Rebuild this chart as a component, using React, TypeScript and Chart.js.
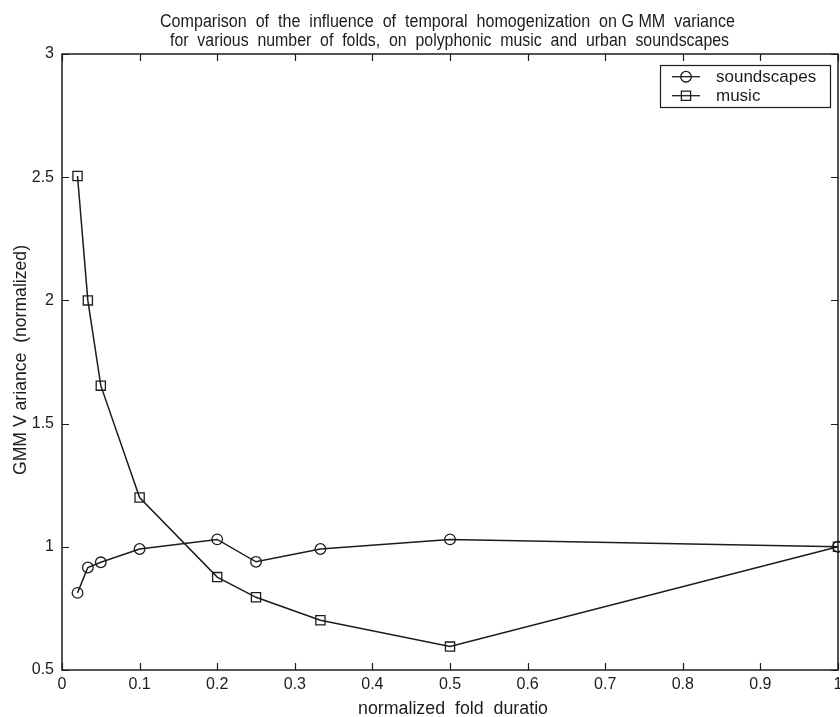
import React, { useEffect, useRef } from "react";
import { Chart, registerables } from "chart.js";

Chart.register(...registerables);

// ---- data ----
const foldDurations = [0.02, 0.0333, 0.05, 0.1, 0.2, 0.25, 0.333, 0.5, 1];
const soundscapesVariance = [0.813, 0.916, 0.937, 0.991, 1.03, 0.939, 0.991, 1.03, 1.0];
const musicVariance = [2.505, 2.0, 1.654, 1.2, 0.877, 0.795, 0.702, 0.595, 1.0];
const xTicks = [0, 0.1, 0.2, 0.3, 0.4, 0.5, 0.6, 0.7, 0.8, 0.9, 1];
const yTicks = [0.5, 1, 1.5, 2, 2.5, 3];
const titleLines = [
  "Comparison  of  the  influence  of  temporal  homogenization  on G MM  variance",
  "for  various  number  of  folds,  on  polyphonic  music  and  urban  soundscapes",
];
const xLabel = "normalized  fold  duratio";
const yLabel = "GMM V ariance  (normalized)";
const seriesNames = ["soundscapes", "music"];

const INK = "#1c1c1c";
const FONT = "'Liberation Sans', Arial, Helvetica, sans-serif";

function drawFitted(
  ctx: CanvasRenderingContext2D,
  text: string,
  cx: number,
  baseline: number,
  targetWidth: number,
  size: number
) {
  ctx.save();
  ctx.font = `${size}px ${FONT}`;
  ctx.textAlign = "center";
  ctx.textBaseline = "alphabetic";
  const w = ctx.measureText(text).width;
  ctx.translate(cx, baseline);
  ctx.scale(targetWidth / w, 1);
  ctx.fillStyle = INK;
  ctx.fillText(text, 0, 0);
  ctx.restore();
}

const framePlugin = {
  id: "matlabFrame",
  beforeDatasetsDraw(chart: any) {
    const { ctx, chartArea, scales } = chart;
    const { left, right, top, bottom } = chartArea;
    ctx.save();
    ctx.strokeStyle = INK;
    ctx.lineWidth = 1.5;
    ctx.strokeRect(left, top, right - left, bottom - top);
    ctx.lineWidth = 1.2;
    ctx.beginPath();
    scales.x.ticks.forEach((t: any) => {
      const px = Math.round(scales.x.getPixelForValue(t.value)) + 0.5;
      ctx.moveTo(px, bottom);
      ctx.lineTo(px, bottom - 7);
      ctx.moveTo(px, top);
      ctx.lineTo(px, top + 7);
    });
    scales.y.ticks.forEach((t: any) => {
      const py = Math.round(scales.y.getPixelForValue(t.value)) + 0.5;
      ctx.moveTo(left, py);
      ctx.lineTo(left + 7, py);
      ctx.moveTo(right, py);
      ctx.lineTo(right - 7, py);
    });
    ctx.stroke();
    ctx.restore();
  },
  afterDraw(chart: any) {
    const { ctx } = chart;
    // title
    drawFitted(ctx, titleLines[0], 447.5, 27, 575, 18);
    drawFitted(ctx, titleLines[1], 449.5, 46, 559, 18);
    // x label
    drawFitted(ctx, xLabel, 453, 714, 190, 18);
    // y label
    ctx.save();
    ctx.translate(26, 360);
    ctx.rotate(-Math.PI / 2);
    drawFitted(ctx, yLabel, 0, 0, 230, 18);
    ctx.restore();

    // legend
    ctx.save();
    ctx.fillStyle = "#ffffff";
    ctx.fillRect(660, 65, 170, 43);
    ctx.strokeStyle = INK;
    ctx.lineWidth = 1.2;
    ctx.strokeRect(660.5, 65.5, 170, 42);
    const rows = [76.7, 95.7];
    rows.forEach((ry, i) => {
      ctx.strokeStyle = INK;
      ctx.lineWidth = 1.3;
      ctx.beginPath();
      ctx.moveTo(672, ry);
      ctx.lineTo(700, ry);
      ctx.stroke();
      ctx.beginPath();
      if (i === 0) {
        ctx.arc(686, ry, 5.3, 0, Math.PI * 2);
      } else {
        ctx.rect(686 - 4.6, ry - 4.6, 9.2, 9.2);
      }
      ctx.stroke();
      ctx.fillStyle = INK;
      ctx.font = `17px ${FONT}`;
      ctx.textAlign = "left";
      ctx.textBaseline = "middle";
      ctx.fillText(seriesNames[i], 716, ry + 1);
    });
    ctx.restore();
  },
};

export default function App() {
  const canvasRef = useRef<HTMLCanvasElement | null>(null);

  useEffect(() => {
    document.body.style.margin = "0";
    const canvas = canvasRef.current;
    if (!canvas) return;

    const chart = new Chart(canvas, {
      type: "line",
      data: {
        datasets: [
          {
            label: seriesNames[0],
            data: foldDurations.map((x, i) => ({ x, y: soundscapesVariance[i] })),
            borderColor: INK,
            borderWidth: 1.5,
            pointStyle: "circle",
            pointRadius: 5.3,
            pointBorderWidth: 1.3,
            pointBorderColor: INK,
            pointBackgroundColor: "rgba(0,0,0,0)",
            tension: 0,
            clip: false as any,
          },
          {
            label: seriesNames[1],
            data: foldDurations.map((x, i) => ({ x, y: musicVariance[i] })),
            borderColor: INK,
            borderWidth: 1.5,
            pointStyle: "rect",
            pointRadius: 6.5,
            pointBorderWidth: 1.3,
            pointBorderColor: INK,
            pointBackgroundColor: "rgba(0,0,0,0)",
            tension: 0,
            clip: false as any,
          },
        ],
      },
      options: {
        animation: false,
        responsive: false,
        maintainAspectRatio: false,
        devicePixelRatio: 1,
        layout: { autoPadding: false, padding: { top: 54, right: 2, bottom: 0, left: 0 } },
        plugins: {
          legend: { display: false },
          title: { display: false },
          tooltip: { enabled: false },
        },
        scales: {
          x: {
            type: "linear",
            min: 0,
            max: 1,
            afterBuildTicks: (scale: any) => {
              scale.ticks = xTicks.map((v) => ({ value: v }));
            },
            afterFit: (scale: any) => {
              scale.height = 47;
              scale.paddingLeft = 0;
              scale.paddingRight = 0;
            },
            grid: { display: false, drawTicks: false },
            border: { display: false },
            ticks: {
              padding: 5,
              maxRotation: 0,
              autoSkip: false,
              color: INK,
              font: { family: FONT, size: 16 },
              callback: (v: any) => String(Number(Number(v).toFixed(1))),
            },
          },
          y: {
            type: "linear",
            min: 0.5,
            max: 3,
            afterBuildTicks: (scale: any) => {
              scale.ticks = yTicks.map((v) => ({ value: v }));
            },
            afterFit: (scale: any) => {
              scale.width = 62;
              scale.paddingTop = 0;
              scale.paddingBottom = 0;
            },
            grid: { display: false, drawTicks: false },
            border: { display: false },
            ticks: {
              padding: 8,
              autoSkip: false,
              color: INK,
              font: { family: FONT, size: 16 },
              callback: (v: any) => String(Number(Number(v).toFixed(1))),
            },
          },
        },
      },
      plugins: [framePlugin],
    });

    return () => chart.destroy();
  }, []);

  return (
    <div style={{ width: 840, height: 717, background: "#fff" }}>
      <canvas ref={canvasRef} width={840} height={717} style={{ display: "block" }} />
    </div>
  );
}
